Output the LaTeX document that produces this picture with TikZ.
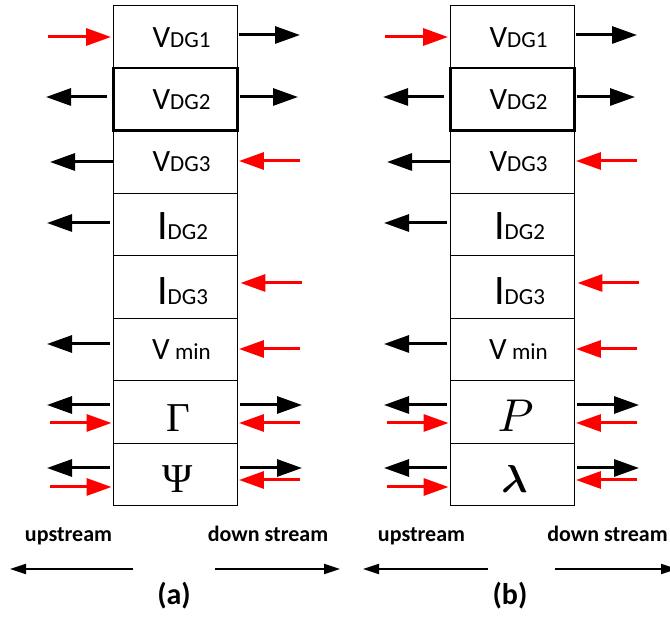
\documentclass[tikz,border=0pt]{standalone}
\usepackage{amsmath}
\usepackage{bm}
\usepackage{fontspec}
\setmainfont{Carlito}
\newfontfamily\symserif{Liberation Serif}
\usetikzlibrary{arrows.meta}

\tikzset{
  cell/.style={draw, line width=0.9pt, minimum width=124pt, minimum height=62.5pt, inner sep=0pt},
  thickcell/.style={cell, line width=2.6pt},
  flow/.style={line width=3pt, -{Triangle[length=25pt,width=17pt]}},
  blk/.style={flow, draw=black, fill=black},
  rd/.style={flow, draw=red, fill=red, line width=3pt},
  axis/.style={line width=2pt, -{Triangle[length=16pt,width=10pt]}},
  lbl/.style={anchor=base, inner sep=0pt},
  caption/.style={anchor=base, inner sep=0pt, font=\bfseries\fontsize{22}{22}\selectfont},
}

% big letter followed by a smaller index on the same baseline
\newcommand\varlab[3]{{\fontsize{#1}{#1}\selectfont #2}{\fontsize{23}{23}\selectfont #3}}

% one stack of eight variables with its upstream/downstream flows
% #1 name prefix, #2 horizontal shift, #3 and #4 the two last symbols
\newcommand\flowcolumn[4]{%
\begin{scope}[xshift=#2]
  \node[cell] (#1-1) at (175.5,36.75) {};
  \node[cell] (#1-3) at (175.5,161.75) {};
  \node[cell] (#1-4) at (175.5,224.25) {};
  \node[cell] (#1-5) at (175.5,286.75) {};
  \node[cell] (#1-6) at (175.5,349.25) {};
  \node[cell] (#1-7) at (175.5,411.75) {};
  \node[cell] (#1-8) at (175.5,474.25) {};
  \node[thickcell] (#1-2) at (175.5,99.25) {};

  \node[lbl] (#1-t1) at (181.5,48) {\varlab{31}{V}{DG1}};
  \node[lbl] (#1-t2) at (181.5,110) {\varlab{31}{V}{DG2}};
  \node[lbl] (#1-t3) at (181.5,172) {\varlab{31}{V}{DG3}};
  \node[lbl] (#1-t4) at (182.5,240) {\varlab{42}{I}{DG2}};
  \node[lbl] (#1-t5) at (182.5,305) {\varlab{42}{I}{DG3}};
  \node[lbl] (#1-t6) at (181.5,360) {\varlab{31}{V}{ min}};
  \node[lbl] (#1-t7) at (178.5,431.5) {#3};
  \node[lbl] (#1-t8) at (177.5,493) {#4};

  % free ends of the flows
  \coordinate (#1-L1) at (48,37);   \coordinate (#1-R1) at (300,35);
  \coordinate (#1-L2) at (46,97);   \coordinate (#1-R2) at (298,97);
  \coordinate (#1-L3) at (50,162);  \coordinate (#1-R3) at (300,161);
  \coordinate (#1-L4) at (47,223);
  \coordinate (#1-R5) at (302,283);
  \coordinate (#1-L6) at (47,344);  \coordinate (#1-R6) at (300,349);
  \coordinate (#1-L7) at (47,405);  \coordinate (#1-R7) at (302,405);
  \coordinate (#1-L7r) at (50,423); \coordinate (#1-R7r) at (300,423);
  \coordinate (#1-L8) at (47,468);  \coordinate (#1-R8) at (302,468);
  \coordinate (#1-L8r) at (50,487); \coordinate (#1-R8r) at (300,480);

  \draw[rd, shorten >=2pt] (#1-L1) -- (#1-1.west |- #1-L1);
  \draw[blk, shorten <=1pt] (#1-1.east |- #1-R1) -- (#1-R1);
  \draw[blk, shorten <=5pt] (#1-2.west |- #1-L2) -- (#1-L2);
  \draw[blk, shorten <=1pt] (#1-2.east |- #1-R2) -- (#1-R2);
  \draw[blk] (#1-3.west |- #1-L3) -- (#1-L3);
  \draw[rd, shorten >=1pt] (#1-R3) -- (#1-3.east |- #1-R3);
  \draw[blk, shorten <=3pt] (#1-4.west |- #1-L4) -- (#1-L4);
  \draw[rd, shorten >=2.5pt] (#1-R5) -- (#1-5.east |- #1-R5);
  \draw[blk, shorten <=3pt] (#1-6.west |- #1-L6) -- (#1-L6);
  \draw[rd, shorten >=1pt] (#1-R6) -- (#1-6.east |- #1-R6);
  \draw[blk, shorten <=3pt] (#1-7.west |- #1-L7) -- (#1-L7);
  \draw[rd, shorten >=1.5pt] (#1-L7r) -- (#1-7.west |- #1-L7r);
  \draw[blk, shorten <=2.5pt] (#1-7.east |- #1-R7) -- (#1-R7);
  \draw[rd, shorten >=1pt] (#1-R7r) -- (#1-7.east |- #1-R7r);
  \draw[blk, shorten <=3pt] (#1-8.west |- #1-L8) -- (#1-L8);
  \draw[rd, shorten >=1.5pt] (#1-L8r) -- (#1-8.west |- #1-L8r);
  \draw[blk, shorten <=2.5pt] (#1-8.east |- #1-R8) -- (#1-R8);
  \draw[rd, shorten >=1pt] (#1-R8r) -- (#1-8.east |- #1-R8r);
\end{scope}}

\begin{document}
\begin{tikzpicture}[x=1pt,y=-1pt]
  \useasboundingbox (0,0) rectangle (670,617);

  \flowcolumn{a}{0pt}{{\symserif\fontsize{41}{41}\selectfont Γ}}{{\symserif\fontsize{41}{41}\selectfont Ψ}}
  \flowcolumn{b}{337pt}{\scalebox{4.6}{$P$}}{\scalebox{3.9}{$\bm{\lambda}$}}

  % direction captions, panel (a)
  \node[caption] (a-up) at (68.5,541.5) {upstream};
  \node[caption] (a-down) at (268,541.5) {down stream};
  \coordinate (a-ups) at (133,569);   \coordinate (a-upe) at (10,569);
  \coordinate (a-dns) at (215,569);   \coordinate (a-dne) at (340,569);
  \draw[axis] (a-ups) -- (a-upe);
  \draw[axis] (a-dns) -- (a-dne);
  \node[caption, font=\bfseries\fontsize{30}{30}\selectfont] (a-cap) at (174,605) {(a)};

  % direction captions, panel (b)
  \node[caption] (b-up) at (421.5,541.5) {upstream};
  \node[caption] (b-down) at (607.5,541.5) {down stream};
  \coordinate (b-ups) at (488,569);   \coordinate (b-upe) at (363,569);
  \coordinate (b-dns) at (555,569);   \coordinate (b-dne) at (677,569);
  \draw[axis] (b-ups) -- (b-upe);
  \draw[axis] (b-dns) -- (b-dne);
  \node[caption, font=\bfseries\fontsize{30}{30}\selectfont] (b-cap) at (510,605) {(b)};
\end{tikzpicture}
\end{document}
